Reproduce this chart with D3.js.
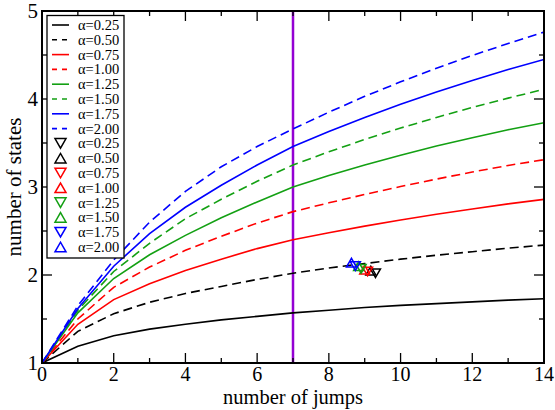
<!DOCTYPE html>
<html>
<head>
<meta charset="utf-8">
<script src="https://cdn.jsdelivr.net/npm/d3@7"></script>
<style>
  body { margin: 0; background: #fff; }
  svg { display: block; font-family: "Liberation Serif", "DejaVu Serif", serif; }
</style>
</head>
<body>
<svg id="chart" width="555" height="410"></svg>
<script>
// jumps 0..14
const jumps = d3.range(0, 15);

// curve values, one array per alpha
const curveAlpha = ["0.25", "0.50", "0.75", "1.00", "1.25", "1.50", "1.75", "2.00"];
const curveValues = [
  [1, 1.19, 1.31, 1.385, 1.44, 1.49, 1.53, 1.57, 1.60, 1.63, 1.655, 1.675, 1.695, 1.715, 1.73],
  [1, 1.36, 1.56, 1.69, 1.79, 1.87, 1.95, 2.02, 2.08, 2.13, 2.18, 2.225, 2.265, 2.305, 2.34],
  [1, 1.44, 1.72, 1.90, 2.05, 2.18, 2.30, 2.40, 2.48, 2.555, 2.625, 2.69, 2.75, 2.808, 2.86],
  [1, 1.50, 1.86, 2.09, 2.28, 2.44, 2.59, 2.72, 2.82, 2.915, 3.005, 3.09, 3.17, 3.245, 3.31],
  [1, 1.57, 1.96, 2.23, 2.45, 2.65, 2.83, 3.00, 3.13, 3.25, 3.36, 3.465, 3.56, 3.65, 3.73],
  [1, 1.60, 2.04, 2.36, 2.64, 2.86, 3.065, 3.25, 3.40, 3.54, 3.67, 3.79, 3.905, 4.01, 4.11],
  [1, 1.62, 2.10, 2.47, 2.77, 3.02, 3.25, 3.46, 3.63, 3.79, 3.94, 4.08, 4.21, 4.335, 4.45],
  [1, 1.65, 2.17, 2.60, 2.95, 3.23, 3.46, 3.66, 3.85, 4.03, 4.195, 4.35, 4.495, 4.63, 4.76]
];

// single points (triangles)
const pointAlpha = ["0.25", "0.50", "0.75", "1.00", "1.25", "1.50", "1.75", "2.00"];
const pointX = [9.30, 9.17, 9.08, 9.00, 8.90, 8.83, 8.74, 8.63];
const pointY = [2.02, 2.05, 2.04, 2.06, 2.07, 2.10, 2.10, 2.14];

const markLine = 7;

const xTicks = [0, 2, 4, 6, 8, 10, 12, 14];
const yTicks = [1, 2, 3, 4, 5];

const colors = ["#000000", "#ff0000", "#13a013", "#0000ff"];
const colorOf = i => colors[Math.floor(i / 2)];
const dashOf = i => (i % 2 === 1 ? "9,5" : null);
const downOf = i => i % 2 === 0; // even index = down triangle

const svg = d3.select("#chart");
const margin = { left: 42, right: 11, top: 11, bottom: 47 };
const W = 555, H = 410;

const x = d3.scaleLinear().domain([0, 14]).range([margin.left, W - margin.right]);
const y = d3.scaleLinear().domain([1, 5]).range([H - margin.bottom, margin.top]);

svg.append("clipPath").attr("id", "clip")
  .append("rect")
  .attr("x", x(0)).attr("y", y(5))
  .attr("width", x(14) - x(0)).attr("height", y(1) - y(5));

const plot = svg.append("g").attr("clip-path", "url(#clip)");

// vertical line
plot.append("line")
  .attr("x1", x(markLine)).attr("x2", x(markLine))
  .attr("y1", y(1)).attr("y2", y(5))
  .attr("stroke", "#9400d3").attr("stroke-width", 2.5);

const line = d3.line().x((d, i) => x(jumps[i])).y(d => y(d));

curveValues.forEach((vals, i) => {
  plot.append("path")
    .attr("d", line(vals))
    .attr("fill", "none")
    .attr("stroke", colorOf(i))
    .attr("stroke-width", 1.6)
    .attr("stroke-dasharray", dashOf(i));
});

// triangle path centred on 0,0
function tri(down, s) {
  const h = s * 0.87;
  return down
    ? `M${-s / 2},${-h / 2}L${s / 2},${-h / 2}L0,${h / 2}Z`
    : `M${-s / 2},${h / 2}L${s / 2},${h / 2}L0,${-h / 2}Z`;
}

pointX.forEach((px, i) => {
  plot.append("path")
    .attr("transform", `translate(${x(px)},${y(pointY[i])})`)
    .attr("d", tri(downOf(i), 10))
    .attr("fill", "none")
    .attr("stroke", colorOf(i))
    .attr("stroke-width", 1.5);
});

// axes with inward ticks on all sides
const xMinor = d3.range(1, 14, 2);
const yMinor = d3.range(1.5, 5, 1);

function ticks(g, vals, len, side) {
  vals.forEach(v => {
    if (side === "b") g.append("line").attr("x1", x(v)).attr("x2", x(v)).attr("y1", y(1)).attr("y2", y(1) - len);
    if (side === "t") g.append("line").attr("x1", x(v)).attr("x2", x(v)).attr("y1", y(5)).attr("y2", y(5) + len);
    if (side === "l") g.append("line").attr("x1", x(0)).attr("x2", x(0) + len).attr("y1", y(v)).attr("y2", y(v));
    if (side === "r") g.append("line").attr("x1", x(14)).attr("x2", x(14) - len).attr("y1", y(v)).attr("y2", y(v));
  });
}
const tg = svg.append("g").attr("stroke", "#000").attr("stroke-width", 1.3);
["b", "t"].forEach(s => { ticks(tg, xTicks.slice(1, -1), 10, s); ticks(tg, xMinor, 5, s); });
["l", "r"].forEach(s => { ticks(tg, yTicks.slice(1, -1), 10, s); ticks(tg, yMinor, 5, s); });

svg.append("rect")
  .attr("x", x(0)).attr("y", y(5))
  .attr("width", x(14) - x(0)).attr("height", y(1) - y(5))
  .attr("fill", "none").attr("stroke", "#000").attr("stroke-width", 2);

svg.append("g").selectAll("text").data(xTicks).join("text")
  .attr("x", d => x(d)).attr("y", y(1) + 18)
  .attr("text-anchor", "middle").attr("font-size", 20)
  .text(d => d);

svg.append("g").selectAll("text").data(yTicks).join("text")
  .attr("x", x(0) - 4).attr("y", d => y(d) + 7)
  .attr("text-anchor", "end").attr("font-size", 21)
  .text(d => d);

svg.append("text")
  .attr("x", (x(0) + x(14)) / 2).attr("y", 404)
  .attr("text-anchor", "middle").attr("font-size", 20.5)
  .text("number of jumps");

svg.append("text")
  .attr("transform", `translate(21,${(y(1) + y(5)) / 2}) rotate(-90)`)
  .attr("text-anchor", "middle").attr("font-size", 21)
  .text("number of states");

// legend
const lg = svg.append("g");
lg.append("rect")
  .attr("x", 47).attr("y", 15.5).attr("width", 77).attr("height", 242.5)
  .attr("fill", "#fff").attr("stroke", "#000").attr("stroke-width", 1.3);

const rowY = k => 25 + k * 14.8;
curveAlpha.forEach((a, i) => {
  lg.append("line")
    .attr("x1", 52).attr("x2", 69).attr("y1", rowY(i)).attr("y2", rowY(i))
    .attr("stroke", colorOf(i)).attr("stroke-width", 1.6)
    .attr("stroke-dasharray", i % 2 === 1 ? "5,5" : null);
  lg.append("text").attr("x", 78).attr("y", rowY(i) + 5)
    .attr("font-size", 14.5).text("α=" + a);
});
pointAlpha.forEach((a, j) => {
  const k = j + 8;
  lg.append("path")
    .attr("transform", `translate(60.5,${rowY(k)})`)
    .attr("d", tri(downOf(j), 11))
    .attr("fill", "none").attr("stroke", colorOf(j)).attr("stroke-width", 1.5);
  lg.append("text").attr("x", 78).attr("y", rowY(k) + 5)
    .attr("font-size", 14.5).text("α=" + a);
});
</script>
</body>
</html>
